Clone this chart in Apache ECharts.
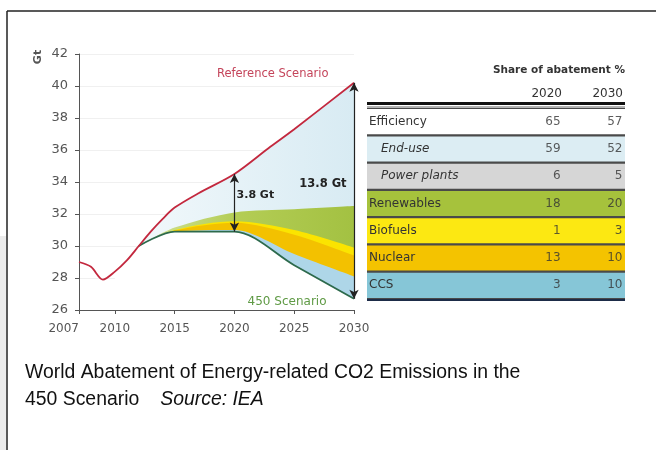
<!DOCTYPE html>
<html lang="en">
<head>
<meta charset="UTF-8">
<title>World Abatement of Energy-related CO2 Emissions</title>
<script src="https://cdn.jsdelivr.net/npm/echarts@6/dist/echarts.min.js"></script>
<style>
  html, body { margin: 0; padding: 0; background: #fff; }
  #chart { width: 656px; height: 450px; }
</style>
</head>
<body>
<div id="chart"></div>
<script>
// Reference Scenario emissions, Gt CO2
var refYears  = [2007, 2008, 2009, 2010, 2011, 2012, 2013, 2014, 2015, 2017, 2020, 2023, 2025, 2030];
var refValues = [29.0, 28.7, 27.9, 28.4, 29.1, 30.0, 30.9, 31.7, 32.4, 33.3, 34.5, 36.2, 37.3, 40.2];

// 450 Scenario (follows the historic path until it splits off in 2012)
var s450Years  = [2010, 2011, 2012, 2015, 2020, 2025, 2030];
var s450Values = [28.4, 29.1, 30.0, 30.9, 30.9, 28.8, 26.7];

// upper edge of each abatement wedge
var wedgeYears     = [2012, 2015, 2020, 2025, 2030];
var ccsTop         = [30.0, 30.9, 31.0, 29.5, 28.1];
var nuclearTop     = [30.0, 30.95, 31.45, 30.7, 29.4];
var biofuelsTop    = [30.0, 31.0, 31.55, 31.0, 29.9];
var renewablesTop  = [30.0, 31.15, 32.1, 32.3, 32.5];

var tickYears = [2007, 2010, 2015, 2020, 2025, 2030];

// share of abatement table
var rows      = ['Efficiency', 'End-use', 'Power plants', 'Renewables', 'Biofuels', 'Nuclear', 'CCS'];
var share2020 = [65, 59, 6, 18, 1, 13, 3];
var share2030 = [57, 52, 5, 20, 3, 10, 10];

function pairs(xs, ys) {
    return xs.map(function (x, i) { return [x, ys[i]]; });
}
function valueAt(xs, ys, x) {
    return ys[xs.indexOf(x)];
}

var rowColors = ['#ffffff', '#dcedf3', '#d6d6d6', '#a6c23c', '#fce812', '#f4c300', '#86c6d7'];
var font = '"DejaVu Sans", sans-serif';

var myChart = echarts.init(document.getElementById('chart'));

function wedge(name, ys, color) {
    return {
        name: name,
        type: 'line',
        data: pairs(wedgeYears, ys),
        smooth: 0.3,
        symbol: 'none',
        lineStyle: { width: 0 },
        areaStyle: { color: color, opacity: 1, origin: 'start' },
        silent: true
    };
}

var captionStyle = { fontFamily: '"Liberation Sans", Arial, sans-serif', fontSize: 19.4, fontWeight: 'normal',
                     color: '#111', lineHeight: 27 };

var option = {
    animation: false,
    backgroundColor: '#fff',
    title: {
        left: 20,
        top: 354,
        text: '{n|World Abatement of Energy-related CO2 Emissions in the}\n{n|450 Scenario}{i|Source: IEA}',
        textStyle: {
            fontWeight: 'normal',
            rich: {
                n: captionStyle,
                i: Object.assign({}, captionStyle, { fontStyle: 'italic', padding: [0, 0, 0, 21] })
            }
        }
    },
    grid: [
        { left: 79, top: 54, width: 275, height: 256 },
        { left: 367, top: 108, width: 258, height: 191, show: true, backgroundColor: '#4a4a4a', borderWidth: 0 }
    ],
    xAxis: [
        {
            gridIndex: 0,
            type: 'value',
            min: 2007,
            max: 2030,
            z: 10,
            axisLine: { lineStyle: { color: '#555', width: 1 } },
            axisTick: { show: true, customValues: tickYears, length: 4, lineStyle: { color: '#555' } },
            axisLabel: { customValues: tickYears, alignMinLabel: 'right', margin: 13,
                         color: '#555', fontSize: 12, fontFamily: font,
                         formatter: function (v) { return String(v); } },
            splitLine: { show: false }
        },
        { gridIndex: 1, type: 'value', min: 0, max: 100, show: false }
    ],
    yAxis: [
        {
            gridIndex: 0,
            type: 'value',
            min: 26,
            max: 42,
            interval: 2,
            axisLine: { show: true, lineStyle: { color: '#555', width: 1 } },
            axisTick: { show: true, length: 4, lineStyle: { color: '#555' } },
            axisLabel: { margin: 11, color: '#555', fontSize: 13, fontFamily: font },
            splitLine: { lineStyle: { color: '#f0f0f0' } }
        },
        { gridIndex: 1, type: 'category', data: rows, inverse: true, show: false }
    ],
    graphic: [
        { type: 'rect', shape: { x: 0, y: 236, width: 6, height: 214 }, style: { fill: '#ececec' } },
        { type: 'line', shape: { x1: 7, y1: 11, x2: 656, y2: 11 }, style: { stroke: '#222', lineWidth: 1.5 } },
        { type: 'line', shape: { x1: 7, y1: 11, x2: 7, y2: 450 }, style: { stroke: '#222', lineWidth: 1.5 } },
        { type: 'text', x: 38, y: 57, rotation: Math.PI / 2,
          style: { text: 'Gt', align: 'center', verticalAlign: 'middle', font: 'bold 11px ' + font, fill: '#555' } },
        { type: 'text', x: 625, y: 70,
          style: { text: 'Share of abatement %', align: 'right', verticalAlign: 'middle', font: 'bold 10.5px ' + font, fill: '#333' } },
        { type: 'text', x: 562, y: 94,
          style: { text: '2020', align: 'right', verticalAlign: 'middle', font: '12px ' + font, fill: '#333' } },
        { type: 'text', x: 623, y: 94,
          style: { text: '2030', align: 'right', verticalAlign: 'middle', font: '12px ' + font, fill: '#333' } },
        { type: 'line', shape: { x1: 367, y1: 103.5, x2: 625, y2: 103.5 }, style: { stroke: '#111', lineWidth: 3 } },
        { type: 'line', shape: { x1: 367, y1: 107, x2: 625, y2: 107 }, style: { stroke: '#666', lineWidth: 1 } },
        { type: 'line', shape: { x1: 367, y1: 300, x2: 625, y2: 300 }, style: { stroke: '#1d2c48', lineWidth: 2 } }
    ],
    series: [
        {
            name: 'Efficiency',
            type: 'line',
            data: pairs(refYears, refValues).filter(function (p) { return p[0] >= 2012; }),
            smooth: 0.3,
            symbol: 'none',
            lineStyle: { width: 0 },
            areaStyle: {
                origin: 'start',
                opacity: 1,
                color: new echarts.graphic.LinearGradient(0, 0, 1, 0, [
                    { offset: 0, color: '#f1f8fb' },
                    { offset: 1, color: '#d8ebf3' }
                ])
            },
            silent: true
        },
        wedge('Renewables', renewablesTop, new echarts.graphic.LinearGradient(0, 0, 1, 0, [
            { offset: 0, color: '#d3e49c' },
            { offset: 0.45, color: '#b4cd55' },
            { offset: 1, color: '#a3c142' }
        ])),
        wedge('Biofuels', biofuelsTop, '#fbe400'),
        wedge('Nuclear', nuclearTop, '#f3c100'),
        wedge('CCS', ccsTop, '#aed6e8'),
        {
            // white fill below the 450 Scenario path
            name: '450 fill',
            type: 'line',
            data: pairs(s450Years, s450Values),
            smooth: 0.3,
            symbol: 'none',
            lineStyle: { width: 0 },
            areaStyle: { color: '#ffffff', opacity: 1, origin: 'start' },
            silent: true
        },
        {
            name: '450 Scenario',
            type: 'line',
            data: pairs(s450Years, s450Values).filter(function (p) { return p[0] >= 2012; }),
            smooth: 0.3,
            symbol: 'none',
            lineStyle: { color: '#2d6a4c', width: 1.8 },
            silent: true
        },
        {
            name: 'Reference Scenario',
            type: 'line',
            data: pairs(refYears, refValues),
            smooth: 0.3,
            symbol: 'none',
            lineStyle: { color: '#c3283e', width: 1.8 },
            silent: true,
            markLine: {
                silent: true,
                symbol: ['arrow', 'arrow'],
                symbolSize: [7, 9],
                label: { show: false },
                lineStyle: { type: 'solid', color: '#222', width: 1.2 },
                data: [
                    [{ coord: [2020, valueAt(refYears, refValues, 2020)] }, { coord: [2020, valueAt(s450Years, s450Values, 2020)] }],
                    [{ coord: [2030, valueAt(refYears, refValues, 2030)] }, { coord: [2030, valueAt(s450Years, s450Values, 2030)] }]
                ]
            },
            markPoint: {
                silent: true,
                symbol: 'circle',
                symbolSize: 1,
                itemStyle: { color: 'rgba(0,0,0,0)' },
                label: { show: true, position: 'inside', formatter: '{b}', fontFamily: font },
                data: [
                    { name: 'Reference Scenario', coord: [2023.2, 40.75], label: { color: '#c4445a', fontSize: 11.5 } },
                    { name: '450 Scenario', coord: [2024.4, 26.5], label: { color: '#5f9a45', fontSize: 12 } },
                    { name: '3.8 Gt', coord: [2021.75, 33.2], label: { color: '#222', fontSize: 11, fontWeight: 'bold' } },
                    { name: '13.8 Gt', coord: [2027.4, 33.9], label: { color: '#222', fontSize: 11.5, fontWeight: 'bold' } }
                ]
            }
        },
        {
            name: 'table',
            type: 'bar',
            xAxisIndex: 1,
            yAxisIndex: 1,
            barCategoryGap: '8%',
            silent: true,
            data: rows.map(function (r, i) {
                var item = { value: 100, name: r, itemStyle: { color: rowColors[i] } };
                if (r === 'End-use' || r === 'Power plants') {
                    item.label = { distance: 14, fontStyle: 'italic' };
                }
                return item;
            }),
            label: { show: true, position: 'insideLeft', distance: 2, formatter: '{b}',
                     color: '#333', fontSize: 12, fontFamily: font }
        },
        {
            name: '2020',
            type: 'scatter',
            xAxisIndex: 1,
            yAxisIndex: 1,
            symbolSize: 1,
            itemStyle: { color: 'rgba(0,0,0,0)' },
            silent: true,
            data: share2020.map(function (v, i) { return [75.2, i, v]; }),
            label: { show: true, position: 'left', distance: 0, color: '#333', fontSize: 12, fontFamily: font,
                     formatter: function (p) { return p.value[2]; } }
        },
        {
            name: '2030',
            type: 'scatter',
            xAxisIndex: 1,
            yAxisIndex: 1,
            symbolSize: 1,
            itemStyle: { color: 'rgba(0,0,0,0)' },
            silent: true,
            data: share2030.map(function (v, i) { return [99.2, i, v]; }),
            label: { show: true, position: 'left', distance: 0, color: '#333', fontSize: 12, fontFamily: font,
                     formatter: function (p) { return p.value[2]; } }
        }
    ]
};

myChart.setOption(option);
</script>
</body>
</html>
